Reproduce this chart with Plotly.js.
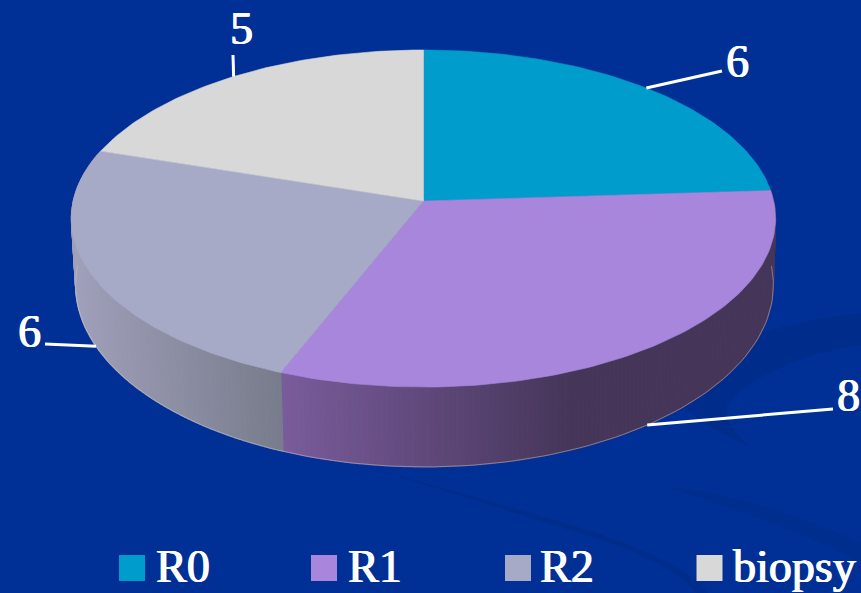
<!DOCTYPE html>
<html>
<head>
<meta charset="utf-8">
<script src="https://cdn.plot.ly/plotly-3.0.1.min.js"></script>
<style>html,body{margin:0;padding:0;background:#003095;overflow:hidden}</style>
</head>
<body>
<div id="chart" style="width:861px;height:593px"></div>
<script>
// Data
const categories = ["R0", "R1", "R2", "biopsy"];
const values = [6, 8, 6, 5];
const topColors = ["#009ccc", "#a886dc", "#a7aac7", "#d8d8d8"];

// Wall shading per slice: [colour on the left, colour on the right, x of left, x of right]
const wallShades = [null, ["#7a5c9c", "#46365a", 280, 570], ["#a0a0ba", "#787c8c", 75, 280], null];
// Label geometry
const labelEnds = [[722, 71], [833, 409], [45, 344], [233, 55]];
const labelPos = [[737, 61], [848, 395], [29, 331], [241, 28]];
const legendMarkX = [132, 324, 518, 709.5];
const legendTextX = [156, 348, 540, 733];

// Perspective pie projection
const K = 0.104;
const TOP = {cx: 423.5, cy: 201, A: 350.2, B: 166.7};
const BASE = {cx: 424.5, cy: 266, A: 347, B: 180};
function project(deg, p) {
  const r = deg * Math.PI / 180, u = Math.sin(r), v = -Math.cos(r), w = 1 - K * v;
  return [p.cx + p.A * u / w, p.cy + p.B * v / w];
}
function lerpHex(a, b, f) {
  f = Math.max(0, Math.min(1, f));
  const pa = [1, 3, 5].map(i => parseInt(a.substr(i, 2), 16));
  const pb = [1, 3, 5].map(i => parseInt(b.substr(i, 2), 16));
  return "rgb(" + pa.map((c, i) => Math.round(c + (pb[i] - c) * f)).join(",") + ")";
}

const total = values.reduce((a, b) => a + b, 0);
let cum = 0;
const slices = values.map(v => {
  const s = cum / total * 360; cum += v;
  return {start: s, end: cum / total * 360};
});

const traces = [];
// Side walls built from thin strips
slices.forEach((s, i) => {
  const shade = wallShades[i];
  if (!shade) return;
  const n = Math.ceil((s.end - s.start) / 0.75);
  for (let j = 0; j < n; j++) {
    const a = s.start + (s.end - s.start) * j / n;
    const b = s.start + (s.end - s.start) * (j + 1) / n;
    const p1 = project(a, TOP), p2 = project(b, TOP), p3 = project(b, BASE), p4 = project(a, BASE);
    const col = lerpHex(shade[0], shade[1], ((p1[0] + p2[0]) / 2 - shade[2]) / (shade[3] - shade[2]));
    traces.push({
      type: "scatter", mode: "lines", fill: "toself", fillcolor: col,
      x: [p1[0], p2[0], p3[0], p4[0], p1[0]], y: [p1[1], p2[1], p3[1], p4[1], p1[1]],
      line: {color: col, width: 1.2}, hoverinfo: "skip", showlegend: false
    });
  }
});
// Fine light edge of the base
const edge = [];
for (let d = 90; d <= 270; d += 1.5) edge.push(project(d, BASE));
traces.push({type: "scatter", mode: "lines", x: edge.map(p => p[0]), y: edge.map(p => p[1]),
  line: {color: "rgba(200,200,215,0.6)", width: 0.8}, hoverinfo: "skip", showlegend: false});
// Top faces
slices.forEach((s, i) => {
  const xs = [TOP.cx], ys = [TOP.cy];
  const n = Math.ceil((s.end - s.start) / 1);
  for (let j = 0; j <= n; j++) {
    const p = project(s.start + (s.end - s.start) * j / n, TOP);
    xs.push(p[0]); ys.push(p[1]);
  }
  xs.push(TOP.cx); ys.push(TOP.cy);
  traces.push({type: "scatter", mode: "lines", fill: "toself", fillcolor: topColors[i], name: categories[i],
    x: xs, y: ys, line: {color: topColors[i], width: 0.6}, hoverinfo: "skip", showlegend: false});
});
// Leader lines from each slice's mid angle
slices.forEach((s, i) => {
  const mid = (s.start + s.end) / 2;
  const front = mid > 90 && mid < 270;
  const p = project(mid, front ? BASE : TOP);
  traces.push({type: "scatter", mode: "lines", x: [p[0], labelEnds[i][0]], y: [p[1], labelEnds[i][1]],
    line: {color: "#ffffff", width: 3}, hoverinfo: "skip", showlegend: false});
});
// Legend swatches
categories.forEach((c, i) => {
  traces.push({type: "scatter", mode: "markers", x: [legendMarkX[i]], y: [568], name: c,
    marker: {symbol: "square", size: 26, color: topColors[i], line: {width: 0}},
    hoverinfo: "skip", showlegend: false});
});

const font = {family: "Liberation Serif, serif", color: "#ffffff", size: 46,
  shadow: "0.7px 0 0 #ffffff, -0.5px 0 0 #ffffff"};
const annotations = [];
values.forEach((v, i) => annotations.push({
  x: labelPos[i][0], y: labelPos[i][1], xref: "x", yref: "y", text: String(v), showarrow: false,
  xanchor: "center", yanchor: "middle", font: font
}));
categories.forEach((c, i) => annotations.push({
  x: legendTextX[i], y: 566, xref: "x", yref: "y", text: c, showarrow: false,
  xanchor: "left", yanchor: "middle", font: font, xshift: -2
}));

const band = "#002d8b";
const layout = {
  width: 861, height: 593, margin: {l: 0, r: 0, t: 0, b: 0},
  paper_bgcolor: "#003095", plot_bgcolor: "#003095", showlegend: false,
  xaxis: {range: [0, 861], visible: false, fixedrange: true},
  yaxis: {range: [593, 0], visible: false, fixedrange: true},
  shapes: [
    {type: "path", layer: "below", fillcolor: band, line: {width: 0},
     path: "M 740 340 C 780 325, 820 318, 861 313 L 861 345 C 810 352, 750 375, 727 405 C 725 420, 735 435, 750 446 C 720 435, 700 420, 680 405 Z"},
    {type: "path", layer: "below", fillcolor: band, line: {width: 0},
     path: "M 370 468 C 450 490, 540 515, 600 534 C 650 552, 690 570, 708 593 L 697 593 C 680 572, 640 552, 595 538 C 530 518, 450 492, 370 468 Z"},
    {type: "path", layer: "below", fillcolor: "#002e8e", line: {width: 0},
     path: "M 667 487 C 720 490, 800 515, 861 543 L 861 562 C 800 530, 720 505, 667 487 Z"}
  ],
  annotations: annotations
};
Plotly.newPlot("chart", traces, layout, {displayModeBar: false, staticPlot: true});
</script>
</body>
</html>
